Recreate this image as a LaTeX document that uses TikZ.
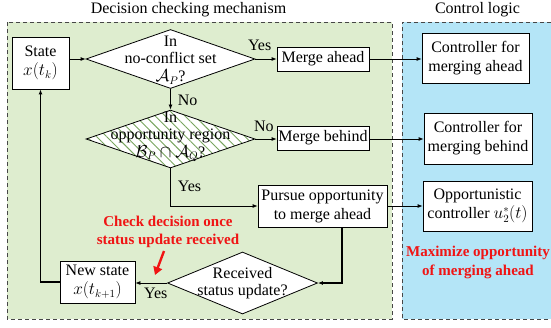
\documentclass[tikz,border=0pt]{standalone}
\usepackage{fontspec}
\setmainfont{Liberation Serif}
\usetikzlibrary{arrows.meta,shapes.geometric,patterns.meta}

\definecolor{greenbg}{RGB}{222,237,207}
\definecolor{bluebg}{RGB}{180,229,247}
\definecolor{hatch}{RGB}{120,165,95}
\definecolor{panelline}{RGB}{70,70,70}
\definecolor{note}{RGB}{240,20,20}

\tikzset{
  panel/.style={draw=panelline, line width=1pt, dash pattern=on 4pt off 3pt},
  basefont/.style={font=\fontsize{16}{19}\selectfont},
  title/.style={basefont, inner sep=0pt},
  box/.style={draw, line width=0.8pt, fill=white, inner sep=0pt, align=center, basefont},
  dia/.style={diamond, draw, line width=0.8pt, fill=white, inner sep=0pt},
  diatext/.style={align=center, inner sep=0pt, font=\fontsize{16}{17.5}\selectfont},
  hatched/.style={preaction={fill=white},
    pattern={Lines[angle=-45,distance=7pt,line width=0.9pt]}, pattern color=hatch},
  arr/.style={line width=0.8pt, -{Latex[length=5pt,width=4pt]}},
  thickarr/.style={line width=1.2pt, -{Latex[length=5pt,width=4pt]}},
  lbl/.style={basefont, inner sep=1pt},
  notetext/.style={align=center, inner sep=0pt, text=note,
    font=\fontsize{15}{18.5}\selectfont\bfseries},
  pointer/.style={draw=note, line width=2.4pt, -{Triangle[length=8pt,width=9pt]}}
}

\begin{document}
\begin{tikzpicture}[x=1pt,y=-1pt]
\useasboundingbox (0,0) rectangle (551,327);

% panels
\fill[greenbg] (7,22) rectangle (392,319);
\draw[panel] (7,22) rectangle (392,319);
\fill[bluebg] (402,22) rectangle (551,319);
\draw[panel] (551,22) -- (402,22) -- (402,319) -- (551,319);

\node[title] (tdec) at (188.5,10) {Decision checking mechanism};
\node[title] (tctl) at (477.5,10) {Control logic};

% decision flow
\node[box, minimum width=57, minimum height=52] (state) at (40.5,63) {State\\$x(t_k)$};

\node[dia, minimum width=169, minimum height=59] (d1) at (170.5,59) {};
\node[diatext] (d1t) at (170.5,60) {In\\no-conflict set\\$\mathcal{A}_P$?};

\node[box, minimum width=92, minimum height=24] (ma) at (323,59) {Merge ahead};

\node[dia, hatched, minimum width=169, minimum height=58] (d2) at (170.5,139) {};
\node[diatext] (d2t) at (170.5,137) {In\\opportunity region\\$\mathcal{B}_P\cap\mathcal{A}_Q$?};

\node[box, minimum width=92, minimum height=24] (mb) at (323,138) {Merge behind};

\node[box, minimum width=129, minimum height=42] (pursue) at (322.5,206) {Pursue opportunity\\to merge ahead};

\node[dia, minimum width=150, minimum height=62] (d3) at (242.5,283) {};
\node[diatext] (d3t) at (242.5,283) {Received\\status update?};

\node[box, minimum width=75, minimum height=42] (ns) at (97.5,282) {New state\\$x(t_{k+1})$};

% controllers
\node[box, minimum width=107, minimum height=50] (ca) at (475.5,58) {Controller for\\merging ahead};
\node[box, minimum width=108, minimum height=51] (cb) at (478,138.5) {Controller for\\merging behind};
\node[box, minimum width=109, minimum height=50] (opp) at (477.5,206) {Opportunistic\\controller $u_2^*(t)$};

% notes
\node[notetext] (chk) at (168,232) {Check decision once\\status update received};
\node[notetext] (maxo) at (478,262.5) {Maximize opportunity\\of merging ahead};

% connectors
\draw[arr] (state.east |- d1.west) -- (d1.west);
\draw[arr] (d1.east) -- (ma.west) node[lbl, pos=.2, above=7pt] {Yes};
\draw[arr] (d1.south) -- (d2.north) node[lbl, pos=.55, right=6pt] {No};
\draw[arr] (d2.east) -- (mb.west |- d2.east) node[lbl, pos=.4, above=6pt] {No};
\draw[arr] (d2.south) |- (pursue.west) node[lbl, pos=.24, right=6pt] {Yes};

\draw[arr] (ma.east) -- (ma.east -| ca.west);
\draw[arr] (mb.east |- d2.east) -- (cb.west |- d2.east);
\draw[arr] (pursue.east) -- (pursue.east -| opp.west);

\coordinate (turn) at (342,283);
\draw[thickarr] (pursue.south -| turn) -- (turn) -- (d3.east);
\draw[arr] (d3.west) -- (ns.east |- d3.west) node[lbl, pos=.36, below=4pt] {Yes};
\draw[thickarr] (ns.west) -| (state.south);

% pointer from the note to the "Yes" branch
\coordinate (ptail) at (164,251);
\coordinate (phead) at (155,275);
\draw[pointer] (ptail) -- (phead);
\end{tikzpicture}
\end{document}
